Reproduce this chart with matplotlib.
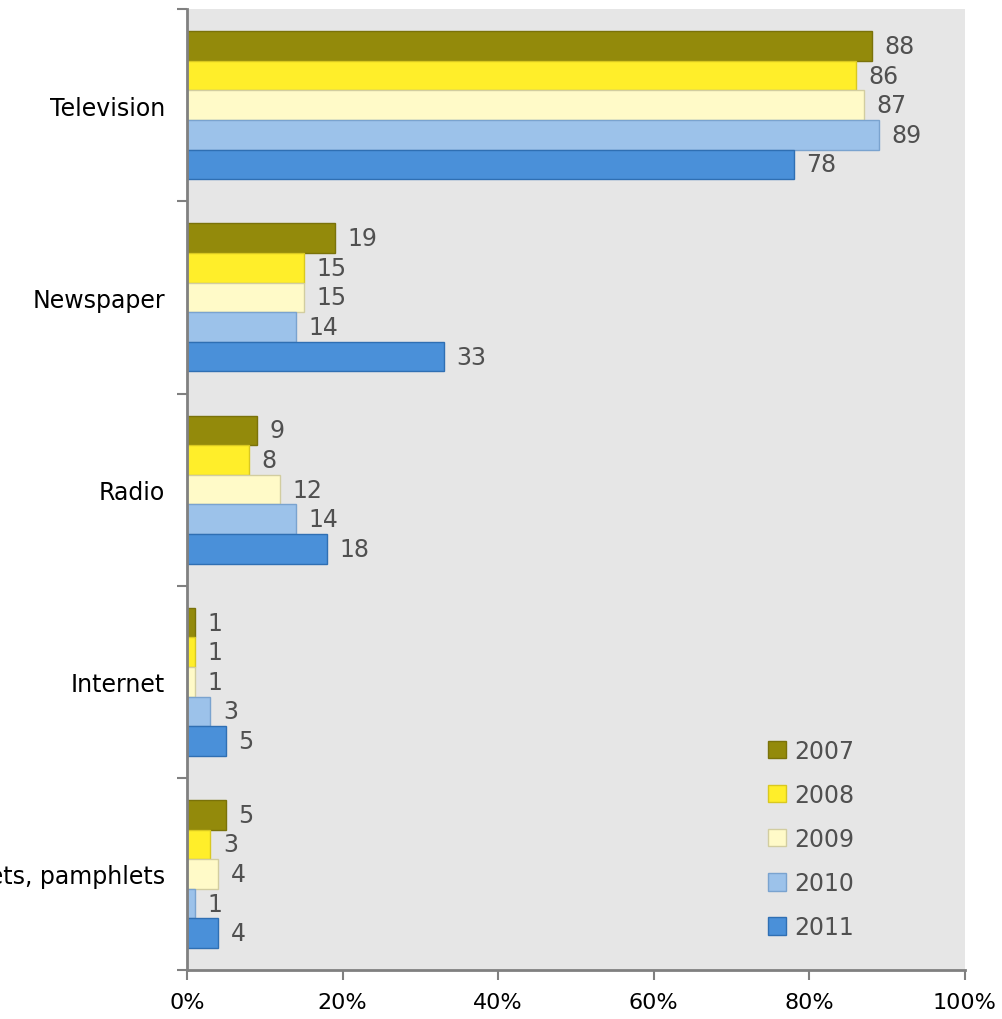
import numpy as np
import matplotlib.pyplot as plt

plt.rcParams['font.family'] = ['DejaVu Sans']

categories = ["Television", "Newspaper", "Radio", "Internet", "Leaflets, pamphlets"]
years = ["2007", "2008", "2009", "2010", "2011"]
values = {
    "2007": [88, 19, 9, 1, 5],
    "2008": [86, 15, 8, 1, 3],
    "2009": [87, 15, 12, 1, 4],
    "2010": [89, 14, 14, 3, 1],
    "2011": [78, 33, 18, 5, 4],
}
x_ticks = [0, 20, 40, 60, 80, 100]

fill_colors = ["#938a0b", "#ffee2a", "#fffac8", "#9cc2ea", "#4a90d9"]
edge_colors = ["#7a720a", "#d9c820", "#d2cda0", "#7aa3cf", "#2f6fb3"]

fig = plt.figure(figsize=(10.02, 10.2), dpi=100)
ax = fig.add_axes([0.1866, 0.048, 0.7764, 0.942])
ax.set_facecolor("#e6e6e6")

n = len(years)
h = 0.154
y = np.arange(len(categories))
for j, yr in enumerate(years):
    pos = y + (j - (n - 1) / 2) * h
    bars = ax.barh(pos, values[yr], height=h, color=fill_colors[j],
                   edgecolor=edge_colors[j], linewidth=1, label=yr, zorder=2)
    for b, v in zip(bars, values[yr]):
        ax.annotate(str(v), (b.get_width(), b.get_y() + b.get_height() / 2),
                    xytext=(9, 0), textcoords="offset points",
                    ha="left", va="center", fontsize=17, color="#505050")

ax.set_xlim(0, 100)
ax.set_ylim(len(categories) - 0.5, -0.5)
ax.set_xticks(x_ticks)
ax.set_xticklabels([f"{t}%" for t in x_ticks], fontsize=16)
ax.set_yticks(y)
ax.set_yticklabels(categories, fontsize=17)
ax.set_yticks(np.arange(-0.5, len(categories)), minor=True)
ax.tick_params(axis="y", which="major", length=0, pad=16)
ax.tick_params(axis="y", which="minor", length=7, width=1.5, color="#808080")
ax.tick_params(axis="x", length=7, width=1.5, color="#808080", pad=9)

for s in ["top", "right"]:
    ax.spines[s].set_visible(False)
for s in ["left", "bottom"]:
    ax.spines[s].set_color("#808080")
    ax.spines[s].set_linewidth(2)

leg = ax.legend(loc="lower right", bbox_to_anchor=(0.885, 0.01), frameon=False,
                fontsize=17, handlelength=0.75, handleheight=0.75,
                labelspacing=0.85, handletextpad=0.35)
for t in leg.get_texts():
    t.set_color("#505050")

fig.savefig("out.png", dpi=100, facecolor="white")
